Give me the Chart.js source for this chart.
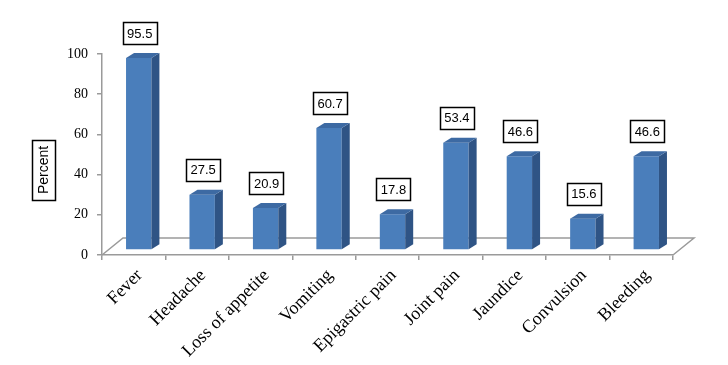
<!DOCTYPE html>
<html><head><meta charset="utf-8">
<script src="https://cdn.jsdelivr.net/npm/chart.js@4"></script>
<style>html,body{margin:0;padding:0;background:#fff}#wrap{width:728px;height:365px}</style>
</head><body><div id="wrap"><canvas id="c" width="728" height="365"></canvas></div>
<script>
const categories = ['Fever','Headache','Loss of appetite','Vomiting','Epigastric pain','Joint pain','Jaundice','Convulsion','Bleeding'];
const percentValues = [95.5,27.5,20.9,60.7,17.8,53.4,46.6,15.6,46.6];
const valueLabels = ['95.5','27.5','20.9','60.7','17.8','53.4','46.6','15.6','46.6'];
const yTicks = [0,20,40,60,80,100];
const yTitle = 'Percent';

const FRONT = '#4a7ebb', SIDE = '#2f5485', TOP = '#3d6aa3', AXIS = '#9a9a9a';
const SHIFT_X = 5, SHIFT_Y = -5;      // bar placement inside the floor depth
const DEPTH_X = 8, DEPTH_Y = -5;      // bar depth
const FLOOR_X = 21, FLOOR_Y = -17;    // floor depth

const bar3d = {
  id: 'bar3d',
  beforeDatasetsDraw(chart) {
    const {ctx, chartArea: a} = chart;
    ctx.save();
    ctx.strokeStyle = AXIS; ctx.lineWidth = 1.5;
    ctx.beginPath();
    ctx.moveTo(a.left, a.bottom); ctx.lineTo(a.left + FLOOR_X, a.bottom + FLOOR_Y);
    ctx.lineTo(a.right + FLOOR_X, a.bottom + FLOOR_Y); ctx.lineTo(a.right, a.bottom);
    ctx.stroke();
    ctx.restore();
    ctx.save();
    ctx.translate(SHIFT_X, SHIFT_Y);
  },
  afterDatasetsDraw(chart) {
    const ctx = chart.ctx;
    const meta = chart.getDatasetMeta(0);
    meta.data.forEach(el => {
      const l = el.x - el.width / 2, r = el.x + el.width / 2, t = el.y, b = el.base;
      ctx.fillStyle = SIDE;
      ctx.beginPath();
      ctx.moveTo(r, t); ctx.lineTo(r + DEPTH_X, t + DEPTH_Y); ctx.lineTo(r + DEPTH_X, b + DEPTH_Y); ctx.lineTo(r, b);
      ctx.closePath(); ctx.fill();
      ctx.fillStyle = TOP;
      ctx.beginPath();
      ctx.moveTo(l, t); ctx.lineTo(l + DEPTH_X, t + DEPTH_Y); ctx.lineTo(r + DEPTH_X, t + DEPTH_Y); ctx.lineTo(r, t);
      ctx.closePath(); ctx.fill();
    });
    ctx.restore();
    // value labels
    ctx.save();
    ctx.font = '13px "Liberation Sans", Arial, sans-serif';
    ctx.textAlign = 'center'; ctx.textBaseline = 'middle';
    meta.data.forEach((el, i) => {
      const txt = valueLabels[i];
      const cx = el.x + SHIFT_X + 1, cy = el.y + SHIFT_Y - 25;
      const w = ctx.measureText(txt).width + 9, h = 22;
      ctx.fillStyle = '#fff';
      ctx.fillRect(cx - w / 2, cy - h / 2, w, h);
      ctx.strokeStyle = '#000'; ctx.lineWidth = 1.5;
      ctx.strokeRect(Math.round(cx - w / 2) + 0.5, Math.round(cy - h / 2) + 0.5, Math.round(w), h);
      ctx.fillStyle = '#000';
      ctx.fillText(txt, cx, cy + 1);
    });
    ctx.restore();
  },
  afterDraw(chart) {
    const ctx = chart.ctx;
    ctx.save();
    ctx.font = '14px "Liberation Sans", Arial, sans-serif';
    const tw = ctx.measureText(yTitle).width;
    const cx = 43.5, cy = 170;
    const bw = 23, bh = tw + 12;
    ctx.fillStyle = '#fff';
    ctx.fillRect(cx - bw / 2, cy - bh / 2, bw, bh);
    ctx.strokeStyle = '#000'; ctx.lineWidth = 1.5;
    ctx.strokeRect(Math.round(cx - bw / 2) + 0.5, Math.round(cy - bh / 2) + 0.5, bw, Math.round(bh));
    ctx.translate(cx, cy); ctx.rotate(-Math.PI / 2);
    ctx.fillStyle = '#000'; ctx.textAlign = 'center'; ctx.textBaseline = 'middle';
    ctx.fillText(yTitle, 0, 1);
    ctx.restore();
  }
};

new Chart(document.getElementById('c'), {
  type: 'bar',
  data: {
    labels: categories,
    datasets: [{ data: percentValues, backgroundColor: FRONT, borderWidth: 0, barPercentage: 0.4, categoryPercentage: 1 }]
  },
  options: {
    responsive: false, animation: false, devicePixelRatio: 1,
    layout: { padding: { top: 54, right: 55, bottom: 0, left: 0 } },
    plugins: { legend: { display: false }, tooltip: { enabled: false } },
    scales: {
      x: {
        offset: true,
        grid: { display: true, drawOnChartArea: false, drawTicks: true, tickLength: 5, color: AXIS, offset: true, lineWidth: 1.5 },
        border: { display: true, color: AXIS, width: 1.5 },
        ticks: { color: '#000', font: { family: '"Liberation Serif", "Times New Roman", serif', size: 18 },
                 minRotation: 45, maxRotation: 45, labelOffset: 6, padding: 5, autoSkip: false },
        afterFit(s) { s.height = 110; }
      },
      y: {
        min: 0, max: 100,
        afterBuildTicks(s) { s.ticks = yTicks.map(v => ({ value: v })); },
        grid: { display: true, drawOnChartArea: false, drawTicks: true, tickLength: 5, color: AXIS, lineWidth: 1.5 },
        border: { display: true, color: AXIS, width: 1.5 },
        ticks: { color: '#000', font: { family: '"Liberation Serif", "Times New Roman", serif', size: 14 }, padding: 9 },
        afterFit(s) { s.width = 102; }
      }
    }
  },
  plugins: [bar3d]
});
</script>
</body></html>
